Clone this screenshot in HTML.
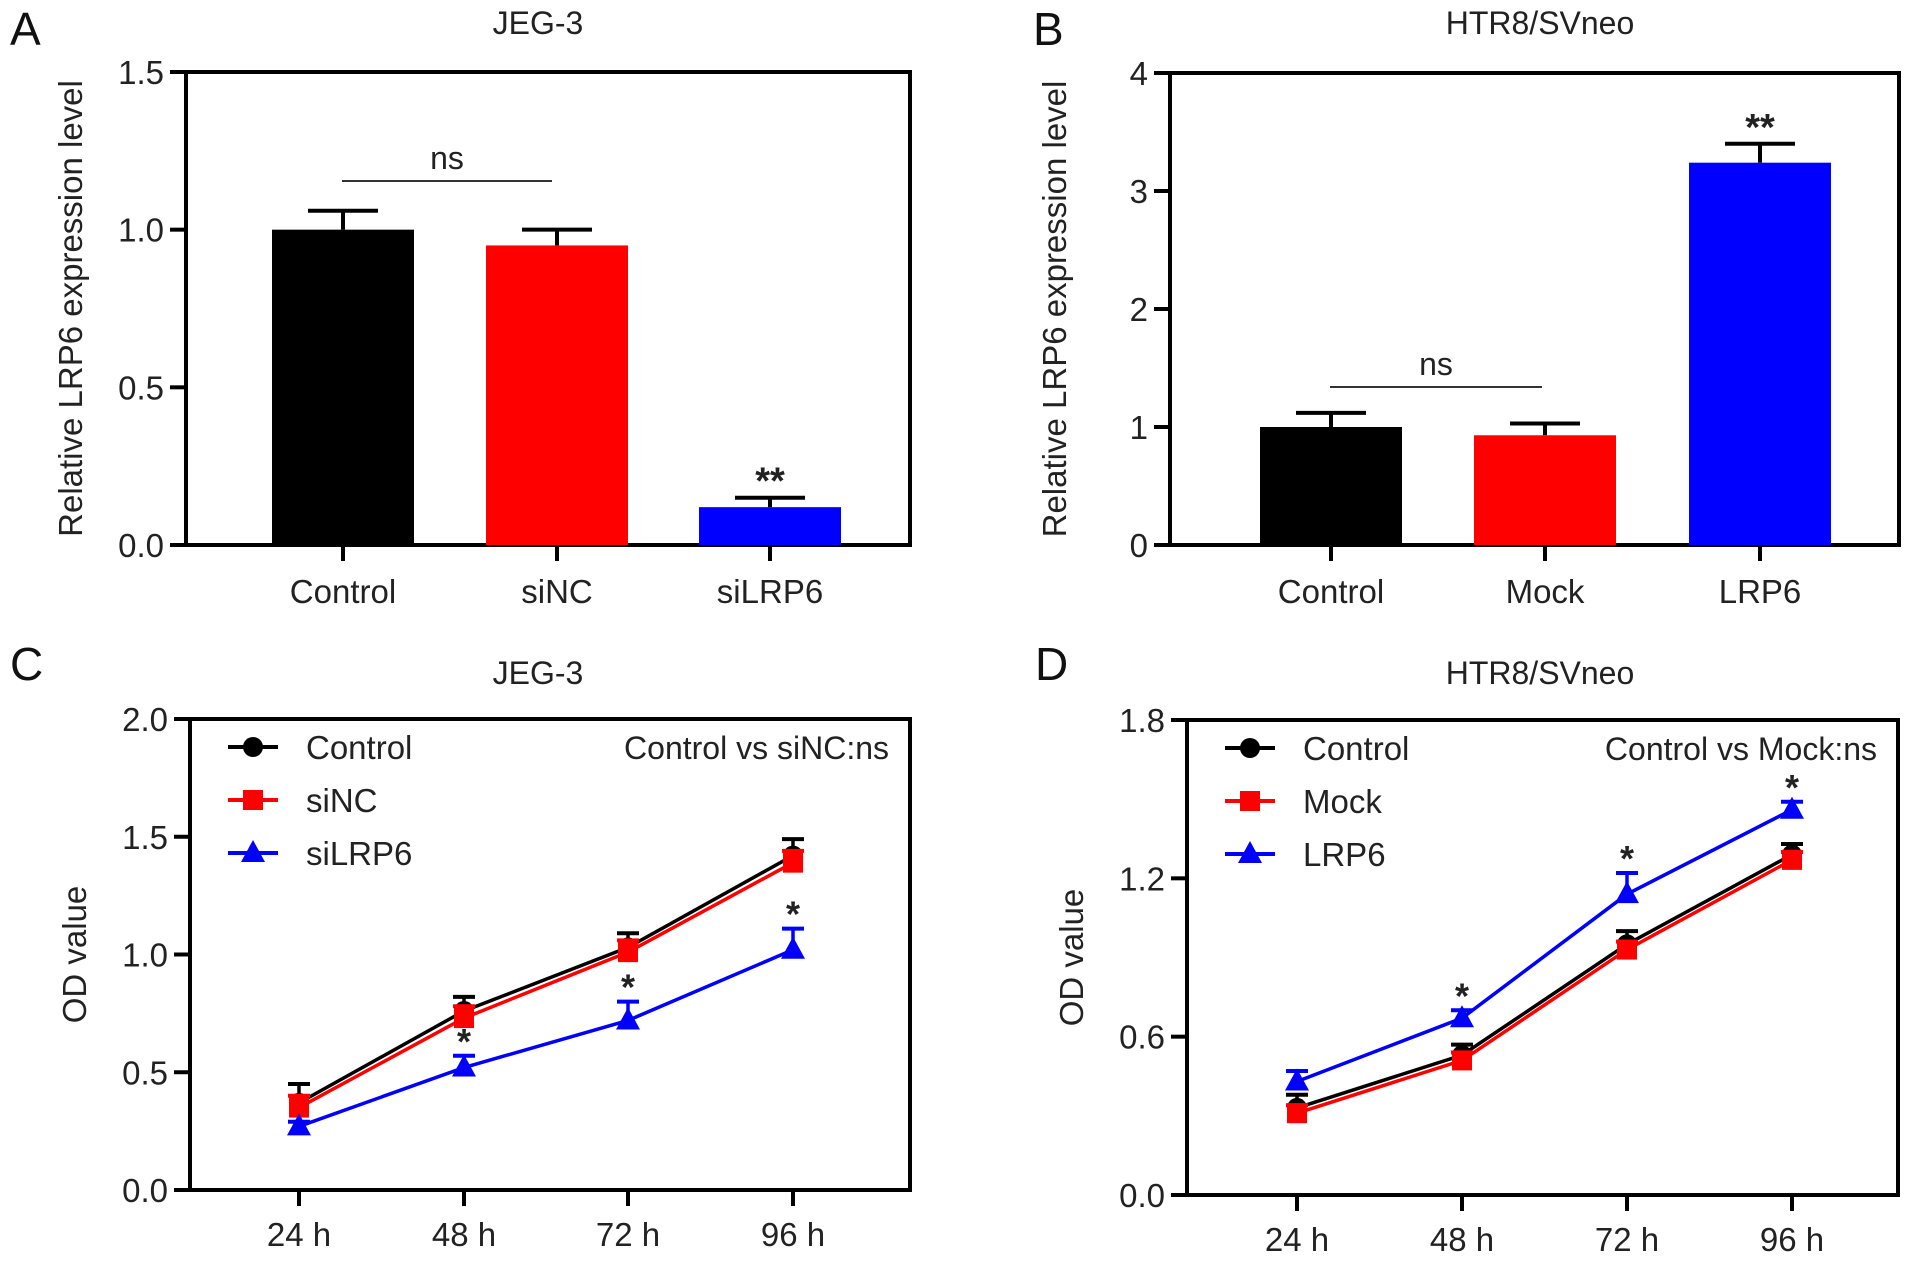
<!DOCTYPE html>
<html><head><meta charset="utf-8">
<style>
html,body{margin:0;padding:0;background:#fff;}
svg{display:block;font-family:"Liberation Sans",Arial,sans-serif;}
</style></head>
<body>
<svg id="fig" width="1913" height="1261" viewBox="0 0 1913 1261" xmlns="http://www.w3.org/2000/svg"></svg>
<script>
// Panel A data
const catsA = ["Control","siNC","siLRP6"];
const valsA = [1.0, 0.95, 0.12];
const errA = [0.06, 0.05, 0.03];
const ticksA = [0, 0.5, 1.0, 1.5];
const tickLabelsA = ["0.0","0.5","1.0","1.5"];
// Panel B data
const catsB = ["Control","Mock","LRP6"];
const valsB = [1.0, 0.93, 3.24];
const errB = [0.12, 0.10, 0.16];
const ticksB = [0,1,2,3,4];
const tickLabelsB = ["0","1","2","3","4"];
// Panel C data
const timesC = ["24 h","48 h","72 h","96 h"];
const ctrlC = [0.37, 0.76, 1.03, 1.42];
const ctrlErrC = [0.08, 0.06, 0.06, 0.07];
const sincC = [0.35, 0.73, 1.01, 1.39];
const sincErrC = [0.05, 0.05, 0.05, 0.05];
const silrpC = [0.27, 0.52, 0.72, 1.02];
const silrpErrC = [0.02, 0.05, 0.08, 0.09];
const ticksC = [0, 0.5, 1.0, 1.5, 2.0];
const tickLabelsC = ["0.0","0.5","1.0","1.5","2.0"];
// Panel D data
const timesD = ["24 h","48 h","72 h","96 h"];
const ctrlD = [0.33, 0.53, 0.95, 1.29];
const ctrlErrD = [0.05, 0.04, 0.05, 0.04];
const mockD = [0.31, 0.51, 0.93, 1.27];
const mockErrD = [0.03, 0.03, 0.03, 0.03];
const lrpD = [0.43, 0.67, 1.14, 1.46];
const lrpErrD = [0.04, 0.03, 0.08, 0.03];
const ticksD = [0, 0.6, 1.2, 1.8];
const tickLabelsD = ["0.0","0.6","1.2","1.8"];

const NS="http://www.w3.org/2000/svg";
const svg=document.getElementById('fig');
function el(tag,attrs,parent,text){const e=document.createElementNS(NS,tag);for(const k in attrs)e.setAttribute(k,attrs[k]);if(text!==undefined)e.textContent=text;(parent||svg).appendChild(e);return e;}

function frame(g,L,R,T,B,ymax,ticks,labels,yTitle,title,titleX,letter,letterX,letterY,titleY){
  const y=v=>B-(v/ymax)*(B-T);
  const box=el('rect',{x:L,y:T,width:R-L,height:B-T,fill:'none',stroke:'#000','stroke-width':4},g);
  
  
  ticks.forEach((t,i)=>{
    const tk=el('line',{x1:L-16,x2:L,y1:y(t),y2:y(t),stroke:'#000','stroke-width':4},g);
    
    
    const tl=el('text',{x:L-22,y:y(t)+12,'text-anchor':'end','font-size':33,fill:'#222'},g,labels[i]);
    
    
  });
  const cx=L-104, cy=(T+B)/2;
  const yt=el('text',{x:cx,y:cy,'text-anchor':'middle','font-size':33,fill:'#222',transform:`rotate(-90 ${cx} ${cy})`},g,yTitle);
  
  
  const tt=el('text',{x:titleX,y:titleY,'text-anchor':'middle','font-size':32,fill:'#222'},g,title);
  
  
  const lt=el('text',{x:letterX,y:letterY,'font-size':46,fill:'#111'},g,letter);
  
  
  return y;
}

function barPanel(name,L,R,T,B,ymax,ticks,labels,cats,vals,errs,colors,centers,title,titleX,letter,letterX,ns,starIdx){
  const g=el('g',{});
  
  
  const y=frame(g,L,R,T,B,ymax,ticks,labels,'Relative LRP6 expression level',title,titleX,letter,letterX,45,34);
  const bw=142;
  cats.forEach((c,i)=>{
    const x=centers[i];
    const top=y(vals[i]+errs[i]);
    const el1=el('line',{x1:x,x2:x,y1:top,y2:y(vals[i]),stroke:'#000','stroke-width':4},g);
    
    
    const cap=el('line',{x1:x-35,x2:x+35,y1:top,y2:top,stroke:'#000','stroke-width':4},g);
    
    
    const r=el('rect',{x:x-bw/2,y:y(vals[i]),width:bw,height:B-y(vals[i]),fill:colors[i]},g);
    
    
    const tk=el('line',{x1:x,x2:x,y1:B,y2:B+16,stroke:'#000','stroke-width':4},g);
    
    
    const tl=el('text',{x:x,y:B+58,'text-anchor':'middle','font-size':33,fill:'#222'},g,c);
    
    
  });
  const s=starIdx, sy=y(vals[s]+errs[s])-16;
  const st=el('text',{x:centers[s],y:sy+12,'text-anchor':'middle','font-size':38,'font-weight':'bold',fill:'#222'},g,'**');
  
  
  const nl=el('line',{x1:ns[0],x2:ns[1],y1:ns[2],y2:ns[2],stroke:'#333','stroke-width':2},g);
  
  
  const nt=el('text',{x:(ns[0]+ns[1])/2,y:ns[2]-12,'text-anchor':'middle','font-size':32,fill:'#222'},g,'ns');
  
  
}

barPanel('panel-a',186,910,72,545,1.5,ticksA,tickLabelsA,catsA,valsA,errA,['#000','#f00','#00f'],[343,557,770],'JEG-3',538,'A',10,[342,552,181],2);
barPanel('panel-b',1170,1899,73,545,4,ticksB,tickLabelsB,catsB,valsB,errB,['#000','#f00','#00f'],[1331,1545,1760],'HTR8/SVneo',1540,'B',1033,[1330,1542,387],2);

function marker(g,type,x,y,color){
  let m;
  if(type==='circle') m=el('circle',{cx:x,cy:y,r:10,fill:color},g);
  else if(type==='square') m=el('rect',{x:x-10,y:y-10,width:20,height:20,fill:color},g);
  else m=el('polygon',{points:`${x},${y-13} ${x+12},${y+9} ${x-12},${y+9}`,fill:color},g);
  return m;
}

function linePanel(name,L,R,T,B,ymax,ticks,labels,times,series,errsList,colors,types,names,centers,title,titleX,letter,letterX,note,stars){
  const g=el('g',{});
  
  
  const y=frame(g,L,R,T,B,ymax,ticks,labels,'OD value',title,titleX,letter,letterX,680,684);
  times.forEach((t,i)=>{
    const tk=el('line',{x1:centers[i],x2:centers[i],y1:B,y2:B+16,stroke:'#000','stroke-width':4},g);
    
    
    const tl=el('text',{x:centers[i],y:B+56,'text-anchor':'middle','font-size':33,fill:'#222'},g,t);
    
    
  });
  series.forEach((vals,si)=>{
    const c=colors[si];
    vals.forEach((v,i)=>{
      const top=y(v+errsList[si][i]);
      const eb=el('line',{x1:centers[i],x2:centers[i],y1:top,y2:y(v),stroke:c,'stroke-width':3.5},g);
      
      
      const cap=el('line',{x1:centers[i]-11,x2:centers[i]+11,y1:top,y2:top,stroke:c,'stroke-width':4},g);
      
      
    });
    const pl=el('polyline',{points:vals.map((v,i)=>centers[i]+','+y(v)).join(' '),fill:'none',stroke:c,'stroke-width':3.5},g);
    
    
    vals.forEach((v,i)=>{
      const m=marker(g,types[si],centers[i],y(v),c);
      
      
    });
    const ly=T+28+si*53;
    const ll=el('line',{x1:L+38,x2:L+88,y1:ly,y2:ly,stroke:c,'stroke-width':4},g);
    
    
    const lm=marker(g,types[si],L+63,ly,c);
    
    
    const lt=el('text',{x:L+116,y:ly+12,'font-size':33,fill:'#222'},g,names[si]);
    
    
  });
  const nt=el('text',{x:R-21,y:T+40,'text-anchor':'end','font-size':32,fill:'#222'},g,note);
  
  
  const last=series[series.length-1], be=errsList[errsList.length-1];
  stars.forEach(i=>{
    const st=el('text',{x:centers[i],y:y(last[i]+be[i])-2,'text-anchor':'middle','font-size':36,'font-weight':'bold',fill:'#222'},g,'*');
    
    
  });
}

linePanel('panel-c',190,910,719,1190,2.0,ticksC,tickLabelsC,timesC,[ctrlC,sincC,silrpC],[ctrlErrC,sincErrC,silrpErrC],['#000','#f00','#00f'],['circle','square','triangle'],['Control','siNC','siLRP6'],[299,464,628,793],'JEG-3',538,'C',10,'Control vs siNC:ns',[1,2,3]);
linePanel('panel-d',1187,1898,720,1195,1.8,ticksD,tickLabelsD,timesD,[ctrlD,mockD,lrpD],[ctrlErrD,mockErrD,lrpErrD],['#000','#f00','#00f'],['circle','square','triangle'],['Control','Mock','LRP6'],[1297,1462,1627,1792],'HTR8/SVneo',1540,'D',1035,'Control vs Mock:ns',[1,2,3]);
</script>
</body></html>
